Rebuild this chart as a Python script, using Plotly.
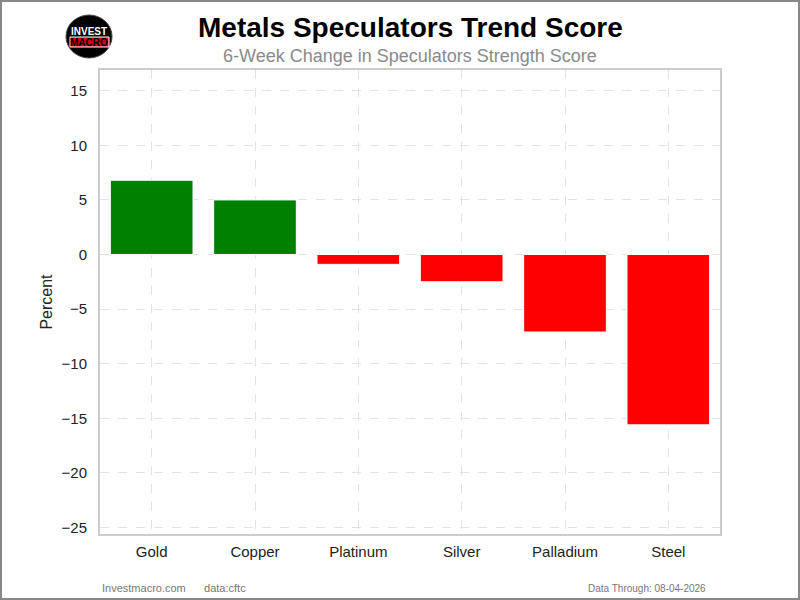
import plotly.graph_objects as go

# 数据
metals = ["Gold", "Copper", "Platinum", "Silver", "Palladium", "Steel"]
change = [6.8, 5.0, -0.9, -2.5, -7.1, -15.6]
y_ticks = [15, 10, 5, 0, -5, -10, -15, -20, -25]

colors = ["green" if v > 0 else "red" for v in change]

fig = go.Figure()
fig.add_trace(go.Bar(x=metals, y=change, marker_color=colors,
                     marker_line_color="white", marker_line_width=1,
                     width=0.8))

font = "Liberation Sans, Arial, sans-serif"
grid = dict(showgrid=True, gridcolor="#e3e3e3", griddash="dash", gridwidth=1)

fig.update_layout(
    width=800, height=600,
    margin=dict(l=100, r=80, t=70, b=66),
    paper_bgcolor="white", plot_bgcolor="white",
    font=dict(family=font, color="#222", size=15),
    showlegend=False,
    xaxis=dict(**grid, showline=True, mirror=True, linecolor="#cccccc", linewidth=2,
               ticks="", ticklabelstandoff=3, range=[-0.5, 5.5]),
    yaxis=dict(**grid, showline=True, mirror=True, linecolor="#cccccc", linewidth=2,
               tickvals=y_ticks, range=[-25.6, 16.9], zeroline=False,
               ticklabelstandoff=8,
               title=dict(text="Percent", font=dict(size=16), standoff=5)),
)

# 标题
fig.add_annotation(text="<b>Metals Speculators Trend Score</b>", xref="paper", yref="paper",
                   x=0.5, y=1.0, xanchor="center", yanchor="bottom", yshift=25,
                   showarrow=False, font=dict(size=28, color="black"))
fig.add_annotation(text="6-Week Change in Speculators Strength Score", xref="paper", yref="paper",
                   x=0.5, y=1.0, xanchor="center", yanchor="bottom", yshift=2,
                   showarrow=False, font=dict(size=18, color="#8a8a8a"))

# 底部说明
fig.add_annotation(text="Investmacro.com&nbsp;&nbsp;&nbsp;&nbsp;&nbsp;&nbsp;data:cftc", xref="paper", yref="paper",
                   x=0.0, y=0, xanchor="left", yanchor="top", yshift=-46,
                   showarrow=False, font=dict(size=11, color="#777"))
fig.add_annotation(text="Data Through: 08-04-2026", xref="paper", yref="paper",
                   x=0.98, y=0, xanchor="right", yanchor="top", yshift=-47,
                   showarrow=False, font=dict(size=10, color="#777"))

# 标志
fig.add_shape(type="circle", xref="paper", yref="paper",
              x0=-0.0548, x1=0.0194, y0=1.0259, y1=1.1185,
              fillcolor="black", line=dict(color="#444", width=1))
fig.add_shape(type="rect", xref="paper", yref="paper",
              x0=-0.0484, x1=0.0145, y0=1.0496, y1=1.0711,
              fillcolor="#d0021b", line=dict(color="white", width=1))
fig.add_annotation(text="<b>INVEST</b>", xref="paper", yref="paper", x=-0.0177, y=1.0819,
                   xanchor="center", yanchor="middle",
                   showarrow=False, font=dict(size=10, color="white"))
fig.add_annotation(text="<b>MACRO</b>", xref="paper", yref="paper", x=-0.0177, y=1.0603,
                   xanchor="center", yanchor="middle",
                   showarrow=False, font=dict(size=10, color="black"))

# 外框
fig.add_shape(type="rect", xref="paper", yref="paper",
              x0=-0.1597, x1=1.1274, y0=-0.1401, y1=1.1487,
              line=dict(color="#888", width=2))

fig.write_html("out.html", config={"displayModeBar": False},
               post_script="document.body.style.margin='0px';")
